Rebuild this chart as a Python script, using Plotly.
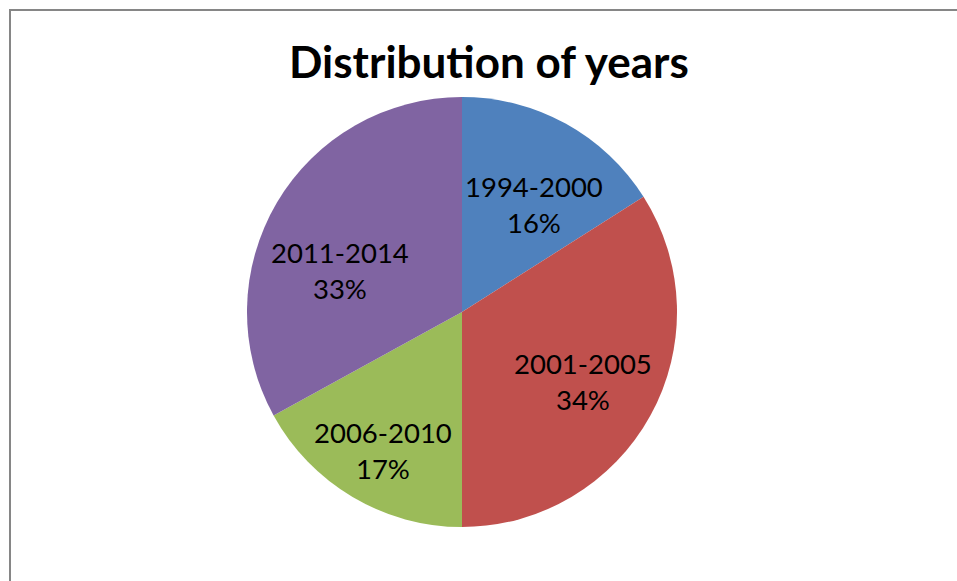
import math
import plotly.graph_objects as go

categories = ["1994-2000", "2001-2005", "2006-2010", "2011-2014"]
percent_values = [16, 34, 17, 33]
colors = ["#4F81BD", "#C0504D", "#9BBB59", "#8064A2"]
title_text = "Distribution of years"

W, H = 957, 581
# pie geometry in pixels
cx, cy, R = 462, 312, 215
FONT = "Lato, Carlito, Calibri, sans-serif"

fig = go.Figure()
fig.add_trace(go.Pie(
    labels=categories,
    values=percent_values,
    marker=dict(colors=colors, line=dict(width=0)),
    sort=False,
    direction="clockwise",
    rotation=0,
    textinfo="none",
    hoverinfo="label+percent",
    showlegend=False,
    domain=dict(x=[(cx - R) / W, (cx + R) / W],
                y=[(H - cy - R) / H, (H - cy + R) / H]),
))

# label placement: radial fraction and angle tweak per slice (style only)
radial = [0.6, 0.65, 0.74, 0.6]
ang_tweak = [5, 1, -1, -12]
total = sum(percent_values)
cum = 0
annotations = []
for i, (cat, v) in enumerate(zip(categories, percent_values)):
    mid = (cum + v / 2) / total * 360 + ang_tweak[i]
    cum += v
    r = radial[i] * R
    px = cx + r * math.sin(math.radians(mid))
    py = cy - r * math.cos(math.radians(mid))
    pct = round(v / total * 100)
    annotations.append(dict(
        x=px / W, y=1 - py / H, xref="paper", yref="paper",
        text=f"{cat}<br>{pct}%", showarrow=False,
        font=dict(family=FONT, size=27.5, color="#000000"),
        xanchor="center", yanchor="middle", align="center",
    ))

annotations.append(dict(
    x=489 / W, y=1 - 61 / H, xref="paper", yref="paper",
    text=f"<b>{title_text}</b>", showarrow=False,
    font=dict(family=FONT, size=44, color="#000000"),
    xanchor="center", yanchor="middle",
))

fig.update_layout(
    width=W, height=H,
    margin=dict(l=0, r=0, t=0, b=0),
    paper_bgcolor="white",
    plot_bgcolor="white",
    annotations=annotations,
    shapes=[dict(type="rect", xref="paper", yref="paper",
                 x0=10 / W, x1=1.02, y0=-0.02, y1=1 - 10 / H,
                 line=dict(color="#868686", width=2), fillcolor="rgba(0,0,0,0)")],
)

fig.write_html("out.html")
